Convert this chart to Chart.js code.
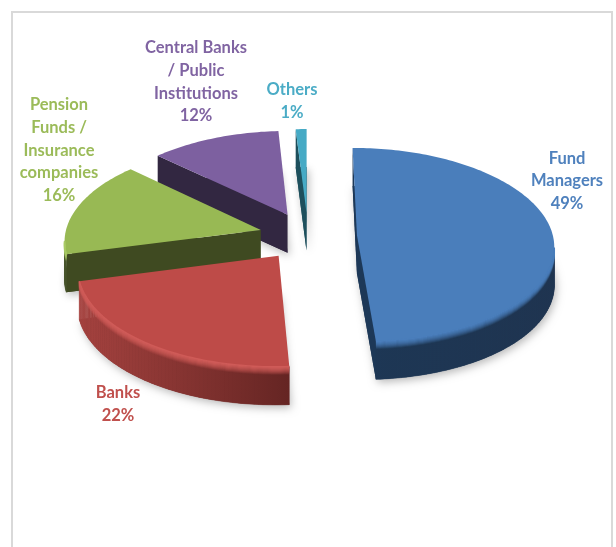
<!DOCTYPE html>
<html>
<head>
<meta charset="utf-8">
<style>
    html, body { margin: 0; padding: 0; background: #fff; overflow: hidden; }
    #frame { position: absolute; left: 11px; top: 11px; width: 598px; height: 600px; border: 2px solid #d9d9d9; }
    canvas { position: absolute; left: 0; top: 0; }
</style>
<script src="https://cdn.jsdelivr.net/npm/chart.js@4"></script>
</head>
<body>
<div id="frame"></div>
<canvas id="pieChart" width="616" height="547"></canvas>
<script>
// Chart data
const categories = ['Fund Managers', 'Banks', 'Pension Funds / Insurance companies', 'Central Banks / Public Institutions', 'Others'];
const shares = [49, 22, 16, 12, 1];
const labelLines = [
    ['Fund', 'Managers', '49%'],
    ['Banks', '22%'],
    ['Pension', 'Funds /', 'Insurance', 'companies', '16%'],
    ['Central Banks', '/ Public', 'Institutions', '12%'],
    ['Others', '1%']
];

// Styles, same order as the data
const topColors = ['#4a7ebb', '#be4b48', '#98b954', '#7d60a0', '#46aac5'];
const labelColors = ['#4f81bd', '#c0504d', '#9bbb59', '#8064a2', '#4bacc6'];
const sideColors = ['#1d3857', '#6a2827', '#3f4a21', '#322741', '#1d4f5c'];
const wallLeft = ['#1d3755', '#a5423f', '#46532a', '#322741', '#1d4f5c'];
const wallRight = ['#1f3450', '#652523', '#3f4a21', '#322741', '#1d4f5c'];
const rimColors = ['#4a7ebb', '#cf5b58', '#a9ca66', '#7d60a0', '#46aac5'];

// Label centre x and first line y
const labelSpots = [[567, 158.5], [118, 393], [59, 105], [196, 48], [292, 90]];
const lineHeight = 22.6;

// Pie tilt
const tilt = 0.49;
const viewDistance = 2000;
const depth = 38;

// Flat pie coordinates to screen coordinates
function project(arc, x, y) {
    const scale = 1 / (1 - y / viewDistance);
    return { x: arc.x + x * scale, y: arc.y + tilt * y * scale };
}

// Outline of one slice: apex, then the outer edge clockwise
function sliceOutline(arc) {
    const mid = (arc.startAngle + arc.endAngle) / 2;
    const shiftX = arc.options.offset * Math.cos(mid);
    const shiftY = arc.options.offset * Math.sin(mid);
    const edge = [];
    const steps = Math.max(2, Math.ceil((arc.endAngle - arc.startAngle) / 0.02));
    for (let i = 0; i <= steps; i++) {
        const a = arc.startAngle + (arc.endAngle - arc.startAngle) * i / steps;
        edge.push(project(arc, shiftX + arc.outerRadius * Math.cos(a), shiftY + arc.outerRadius * Math.sin(a)));
    }
    return { apex: project(arc, shiftX, shiftY), edge };
}

function fillShape(ctx, points, color) {
    ctx.beginPath();
    points.forEach((p, i) => i ? ctx.lineTo(p.x, p.y) : ctx.moveTo(p.x, p.y));
    ctx.closePath();
    ctx.fillStyle = color;
    ctx.fill();
}

function wallQuad(a, b) {
    return [a, b, { x: b.x, y: b.y + depth }, { x: a.x, y: a.y + depth }];
}

// Draw one slice with its side walls
function drawSlice(ctx, arc, i) {
    const { apex, edge } = sliceOutline(arc);
    const first = edge[0];
    const last = edge[edge.length - 1];
    const outline = [apex, ...edge];

    // Soft shadow under the slice
    ctx.save();
    ctx.shadowColor = 'rgba(0,0,0,0.28)';
    ctx.shadowBlur = 9;
    ctx.shadowOffsetX = 2;
    ctx.shadowOffsetY = 3;
    fillShape(ctx, outline.map(p => ({ x: p.x, y: p.y + depth })), sideColors[i]);
    ctx.restore();

    // Straight walls, only the ones facing the viewer
    if (first.x < apex.x) fillShape(ctx, wallQuad(apex, first), sideColors[i]);
    if (apex.x < last.x) fillShape(ctx, wallQuad(last, apex), sideColors[i]);

    // Curved wall
    const xs = edge.map(p => p.x);
    const gradient = ctx.createLinearGradient(Math.min(...xs), 0, Math.max(...xs), 0);
    gradient.addColorStop(0, wallLeft[i]);
    gradient.addColorStop(1, wallRight[i]);
    const front = [];
    for (let k = 0; k < edge.length - 1; k++) {
        if (edge[k + 1].x < edge[k].x) {
            ctx.lineWidth = 0.5;
            ctx.strokeStyle = gradient;
            fillShape(ctx, wallQuad(edge[k], edge[k + 1]), gradient);
            ctx.stroke();
            front.push(edge[k]);
            if (k === edge.length - 2 || edge[k + 2].x >= edge[k + 1].x) front.push(edge[k + 1]);
        }
    }

    // Top face
    fillShape(ctx, outline, topColors[i]);

    // Bevel along the front rim
    if (front.length > 1) {
        ctx.save();
        ctx.strokeStyle = rimColors[i];
        ctx.lineWidth = 1.6;
        ctx.lineJoin = 'round';
        for (let b = 0; b < 8; b++) {
            ctx.globalAlpha = 1 - b / 8;
            ctx.beginPath();
            front.forEach((p, k) => k ? ctx.lineTo(p.x, p.y + b) : ctx.moveTo(p.x, p.y + b));
            ctx.stroke();
        }
        ctx.restore();
    }
}

// Tilted pie drawn from the arc elements, back slices first
const tiltedPie = {
    id: 'tiltedPie',
    beforeDatasetDraw(chart, args) {
        const ctx = chart.ctx;
        const arcs = args.meta.data;
        for (let i = arcs.length - 1; i >= 0; i--) {
            drawSlice(ctx, arcs[i], i);
        }
        return false;
    },
    afterDraw(chart) {
        const ctx = chart.ctx;
        ctx.save();
        ctx.font = 'bold 16.5px Lato';
        ctx.textAlign = 'center';
        ctx.textBaseline = 'middle';
        labelLines.forEach((lines, i) => {
            ctx.fillStyle = labelColors[i];
            lines.forEach((line, k) => {
                ctx.fillText(line, labelSpots[i][0], labelSpots[i][1] + k * lineHeight);
            });
        });
        ctx.restore();
    }
};

new Chart(document.getElementById('pieChart'), {
    type: 'pie',
    data: {
        labels: categories,
        datasets: [{
            data: shares,
            backgroundColor: topColors,
            borderWidth: 0,
            offset: 49
        }]
    },
    options: {
        responsive: false,
        animation: false,
        radius: 196,
        layout: { padding: { bottom: 75 } },
        plugins: {
            legend: { display: false },
            tooltip: { enabled: false }
        }
    },
    plugins: [tiltedPie]
});
</script>
</body>
</html>
